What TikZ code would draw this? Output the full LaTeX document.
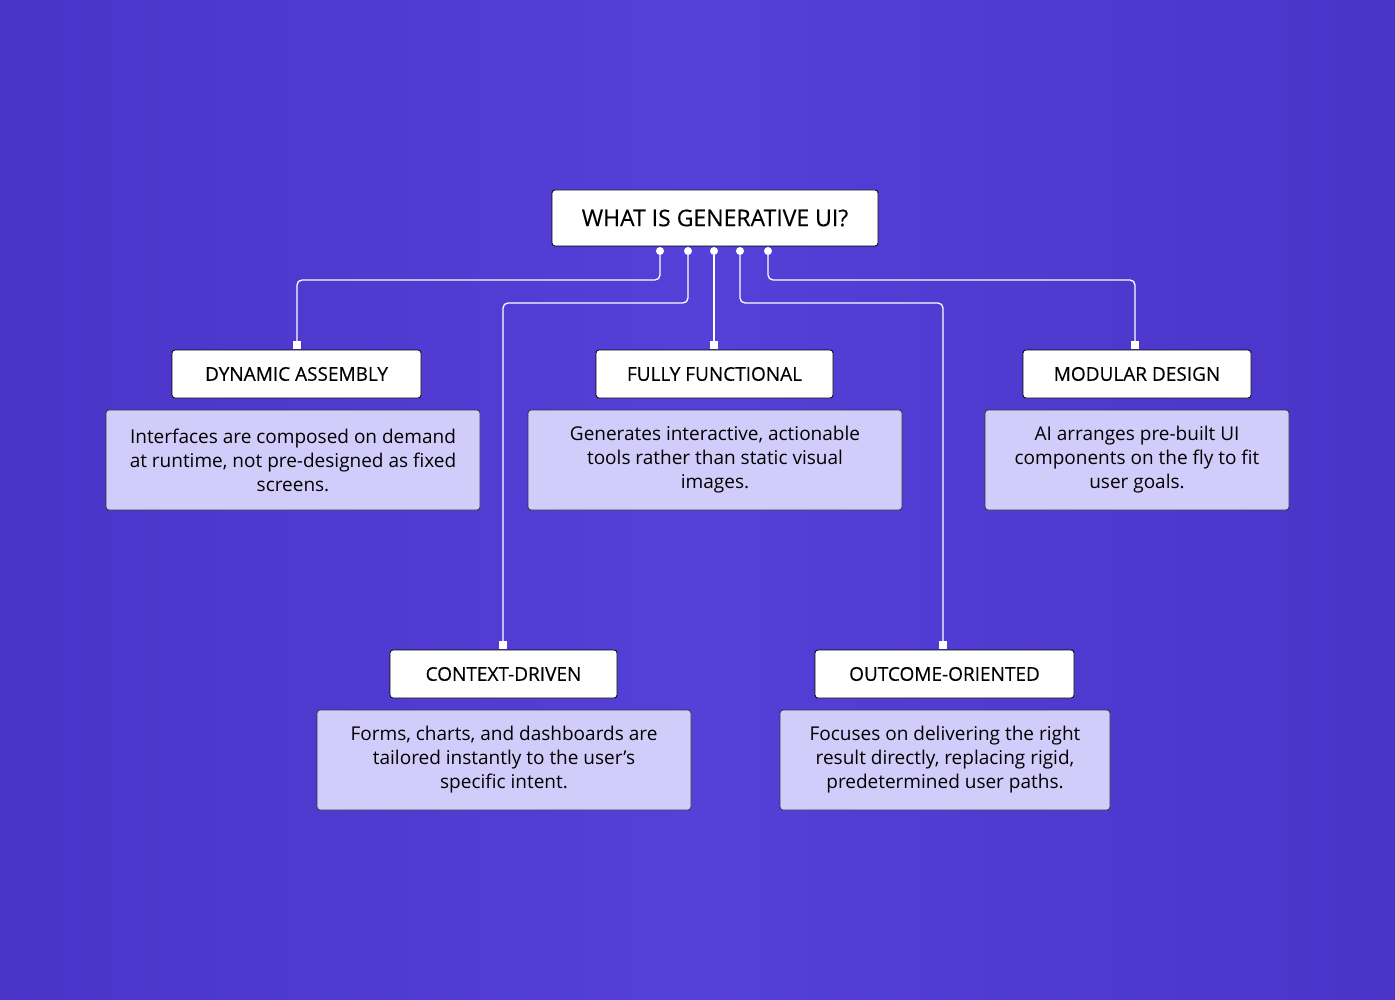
\documentclass[tikz,border=0pt]{standalone}
\usepackage{fontspec}
\setmainfont{Open Sans}
\begin{document}
\begin{tikzpicture}[x=1pt,y=-1pt,
  hdr/.style={draw=black,line width=0.8pt,fill=white,rounded corners=3pt,font=\fontsize{19}{22}\selectfont\addfontfeature{FakeBold=0.3},inner sep=0pt},
  desc/.style={draw=black!80,line width=0.8pt,fill=descfill,rounded corners=3pt,font=\fontsize{19}{24}\selectfont,align=center,inner sep=0pt},
  wire/.style={white,line width=1.3pt,rounded corners=5pt},
  dot/.style={circle,fill=white,inner sep=0pt,minimum size=8pt},
  sq/.style={fill=white,inner sep=0pt,minimum size=8pt}]
\definecolor{descfill}{HTML}{D2CCFA}
\definecolor{bgA}{HTML}{4A34C8}
\definecolor{bgB}{HTML}{5540D8}
\useasboundingbox (0,0) rectangle (1395,1000);
\shade[left color=bgA,right color=bgA,middle color=bgB] (0,0) rectangle (1395,1000);
% title
\node[hdr,minimum width=326pt,minimum height=56pt,font=\fontsize{23}{26}\selectfont\addfontfeature{FakeBold=0.3}] (t) at (715,218) {WHAT IS GENERATIVE UI?};
% headers
\node[hdr,minimum width=249pt,minimum height=48pt] (h1) at (296.5,374) {DYNAMIC ASSEMBLY};
\node[hdr,minimum width=237pt,minimum height=48pt] (h2) at (714.5,374) {FULLY FUNCTIONAL};
\node[hdr,minimum width=228pt,minimum height=48pt] (h3) at (1137,374) {MODULAR DESIGN};
\node[hdr,minimum width=227pt,minimum height=48pt] (h4) at (503.5,674) {CONTEXT-DRIVEN};
\node[hdr,minimum width=259pt,minimum height=48pt] (h5) at (944.5,674) {OUTCOME-ORIENTED};
% descriptions
\node[desc,minimum width=374pt,minimum height=100pt] (d1) at (293,460) {Interfaces are composed on demand\\at runtime, not pre-designed as fixed\\screens.};
\node[desc,minimum width=374pt,minimum height=100pt] (d2) at (715,460) {Generates interactive, actionable\\tools rather than static visual\\images.};
\node[desc,minimum width=304pt,minimum height=100pt] (d3) at (1137,460) {AI arranges pre-built UI\\components on the fly to fit\\user goals.};
\node[desc,minimum width=374pt,minimum height=100pt] (d4) at (504,760) {Forms, charts, and dashboards are\\tailored instantly to the user’s\\specific intent.};
\node[desc,minimum width=330pt,minimum height=100pt] (d5) at (945,760) {Focuses on delivering the right\\result directly, replacing rigid,\\predetermined user paths.};
% connector points
\node[dot] (p1) at (660,251) {};
\node[dot] (p2) at (688,251) {};
\node[dot] (p3) at (714,251) {};
\node[dot] (p4) at (740,251) {};
\node[dot] (p5) at (768,251) {};
\node[sq] (s1) at (297,345) {};
\node[sq] (s2) at (714,345) {};
\node[sq] (s3) at (1135,345) {};
\node[sq] (s4) at (503,645) {};
\node[sq] (s5) at (943,645) {};
\draw[wire] (p1) -- (660,280) -- (297,280) -- (s1);
\draw[wire] (p2) -- (688,303) -- (503,303) -- (s4);
\draw[wire] (p3) -- (s2);
\draw[wire] (p4) -- (740,303) -- (943,303) -- (s5);
\draw[wire] (p5) -- (768,280) -- (1135,280) -- (s3);
\end{tikzpicture}
\end{document}
